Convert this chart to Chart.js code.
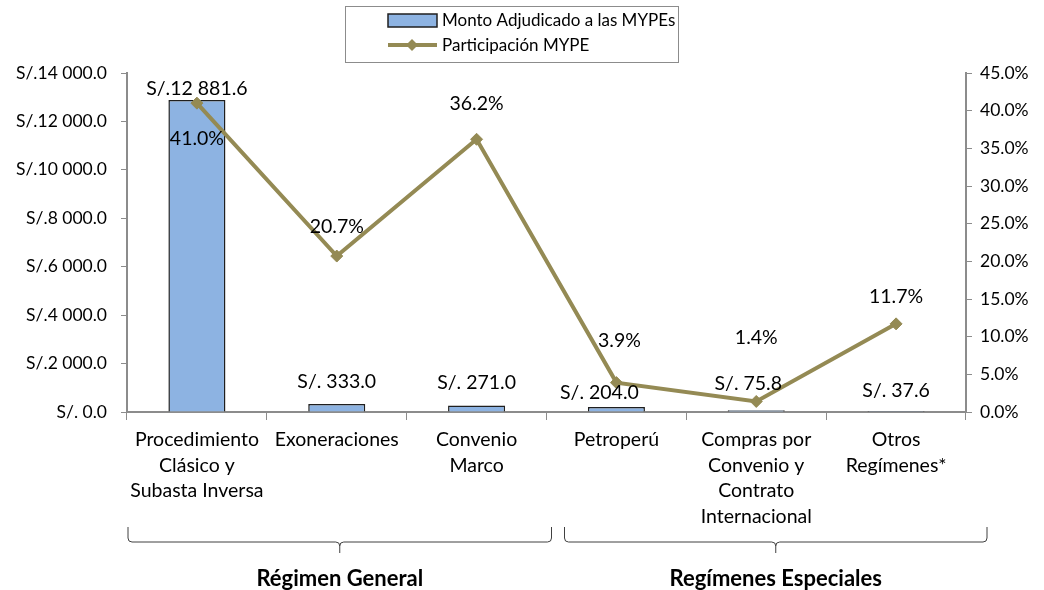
<!DOCTYPE html>
<html>
<head>
<meta charset="utf-8">
<script src="https://cdn.jsdelivr.net/npm/chart.js@4/dist/chart.umd.min.js"></script>
<style>
  html, body { margin: 0; padding: 0; background: #fff; }
  #wrap { width: 1044px; height: 590px; position: relative; }
</style>
</head>
<body>
<div id="wrap"><canvas id="c" width="1044" height="590"></canvas></div>
<script>
// ---- data ----
const categories = [
  ["Procedimiento", "Clásico y", "Subasta Inversa"],
  ["Exoneraciones"],
  ["Convenio", "Marco"],
  ["Petroperú"],
  ["Compras por", "Convenio y", "Contrato", "Internacional"],
  ["Otros", "Regímenes*"]
];
const montoLabel = "Monto Adjudicado a las MYPEs";
const montos = [12881.6, 333.0, 271.0, 204.0, 75.8, 37.6];
const partLabel = "Participación MYPE";
const participacion = [41.0, 20.7, 36.2, 3.9, 1.4, 11.7];
const groupNames = ["Régimen General", "Regímenes Especiales"];
const groupFirst = [0, 3];
const groupLast = [2, 5];
const leftTickMax = 14000, leftTickStep = 2000;
const rightTickMax = 45, rightTickStep = 5;

// ---- style ----
const FONT = "Lato, 'Open Sans', sans-serif";
const BAR_FILL = "#8DB3E2";
const BAR_EDGE = "#1F1F1F";
const LINE_COL = "#948A54";
const AXIS_COL = "#8C8C8C";
const TICK_SIZE = 17.5, LABEL_SIZE = 19.5, CAT_SIZE = 19.5, LEGEND_SIZE = 17, GROUP_SIZE = 22;
// label offsets (pixels) for Excel-like label placement
const barLabelDY = [-11, -22, -23, -14, -26, -20];
const barLabelDX = [0, 0, 0, -17, -8, 0];
const ptLabelDY = [36, -29, -36, -42, -64, -27];
const ptLabelDX = [0, 0, 0, 3, 0, 0];
const bracketPadL = [1, 18];
const bracketPadR = [5, 21];

function fmtSoles(v) {
  const s = Math.abs(v).toFixed(1);
  let [ip, dp] = s.split(".");
  if (ip.length > 3) {
    ip = ip.replace(/\B(?=(\d{3})+(?!\d))/g, " ");
    return "S/." + ip + "." + dp;
  }
  return "S/. " + ip + "." + dp;
}
function fmtPct(v) { return v.toFixed(1) + "%"; }

const labelsPlugin = {
  id: "labelsPlugin",
  afterDatasetsDraw(chart) {
    const ctx = chart.ctx;
    ctx.save();
    ctx.font = LABEL_SIZE + "px " + FONT;
    ctx.fillStyle = "#000";
    ctx.textAlign = "center";
    ctx.textBaseline = "middle";
    const barMeta = chart.getDatasetMeta(1);
    barMeta.data.forEach((el, i) => {
      ctx.fillText(fmtSoles(montos[i]), el.x + barLabelDX[i], el.y + barLabelDY[i]);
    });
    const lineMeta = chart.getDatasetMeta(0);
    lineMeta.data.forEach((el, i) => {
      ctx.fillText(fmtPct(participacion[i]), el.x + ptLabelDX[i], el.y + ptLabelDY[i]);
    });
    ctx.restore();
  }
};

const extrasPlugin = {
  id: "extrasPlugin",
  afterDraw(chart) {
    const ctx = chart.ctx;
    const xs = chart.scales.x;
    ctx.save();
    // brackets and group labels
    const half = (xs.getPixelForValue(1) - xs.getPixelForValue(0)) / 2;
    const yTop = 527, yLine = 542, yNub = 553, r = 4;
    for (let g = 0; g < groupNames.length; g++) {
      const x1 = xs.getPixelForValue(groupFirst[g]) - half + bracketPadL[g];
      const x2 = xs.getPixelForValue(groupLast[g]) + half + bracketPadR[g];
      const xc = (x1 + x2) / 2;
      ctx.strokeStyle = "#404040";
      ctx.lineWidth = 1;
      ctx.beginPath();
      ctx.moveTo(x1, yTop);
      ctx.lineTo(x1, yLine - r);
      ctx.quadraticCurveTo(x1, yLine, x1 + r, yLine);
      ctx.lineTo(xc - r, yLine);
      ctx.quadraticCurveTo(xc, yLine, xc, yLine + r);
      ctx.lineTo(xc, yNub);
      ctx.moveTo(xc, yLine + r);
      ctx.quadraticCurveTo(xc, yLine, xc + r, yLine);
      ctx.lineTo(x2 - r, yLine);
      ctx.quadraticCurveTo(x2, yLine, x2, yLine - r);
      ctx.lineTo(x2, yTop);
      ctx.stroke();
      ctx.fillStyle = "#000";
      ctx.font = "bold " + GROUP_SIZE + "px " + FONT;
      ctx.textAlign = "center";
      ctx.textBaseline = "middle";
      ctx.fillText(groupNames[g], xc, 579);
    }
    // legend
    const lx = 345, ly = 6, lw = 333, lh = 56;
    ctx.strokeStyle = "#8C8C8C";
    ctx.lineWidth = 1;
    ctx.strokeRect(lx + 0.5, ly + 0.5, lw, lh);
    // row 1
    ctx.fillStyle = BAR_FILL;
    ctx.fillRect(388, 14, 49, 13);
    ctx.strokeStyle = BAR_EDGE;
    ctx.lineWidth = 1.5;
    ctx.strokeRect(388, 14, 49, 13);
    ctx.fillStyle = "#000";
    ctx.font = LEGEND_SIZE + "px " + FONT;
    ctx.textAlign = "left";
    ctx.textBaseline = "middle";
    ctx.fillText(chart.data.datasets[1].label, 442, 21);
    // row 2
    ctx.strokeStyle = LINE_COL;
    ctx.lineWidth = 4;
    ctx.beginPath();
    ctx.moveTo(388, 45);
    ctx.lineTo(437, 45);
    ctx.stroke();
    ctx.fillStyle = LINE_COL;
    ctx.beginPath();
    ctx.moveTo(412, 39); ctx.lineTo(418, 45); ctx.lineTo(412, 51); ctx.lineTo(406, 45);
    ctx.closePath();
    ctx.fill();
    ctx.fillStyle = "#000";
    ctx.fillText(chart.data.datasets[0].label, 442, 46);
    ctx.restore();
  }
};

new Chart(document.getElementById("c"), {
  data: {
    labels: categories,
    datasets: [
      {
        type: "line",
        label: partLabel,
        data: participacion,
        yAxisID: "y1",
        borderColor: LINE_COL,
        backgroundColor: LINE_COL,
        borderWidth: 4,
        pointStyle: "rectRot",
        pointRadius: 6,
        pointBackgroundColor: LINE_COL,
        pointBorderColor: LINE_COL,
        pointBorderWidth: 1,
        tension: 0,
        order: 0
      },
      {
        type: "bar",
        label: montoLabel,
        data: montos,
        yAxisID: "y",
        backgroundColor: BAR_FILL,
        borderColor: BAR_EDGE,
        borderWidth: 1.5,
        categoryPercentage: 1,
        barPercentage: 0.408,
        order: 1
      }
    ]
  },
  options: {
    responsive: false,
    animation: false,
    layout: { padding: { top: 73, left: 0, right: 0, bottom: 0 } },
    plugins: { legend: { display: false }, tooltip: { enabled: false } },
    scales: {
      x: {
        offset: true,
        grid: { display: true, offset: true, drawOnChartArea: false, drawTicks: true, tickLength: 8, color: AXIS_COL },
        border: { display: true, color: AXIS_COL, width: 2 },
        ticks: { color: "#000", font: { family: FONT, size: CAT_SIZE, lineHeight: 1.31 }, padding: 7, maxRotation: 0, autoSkip: false },
        afterFit(s) { s.height = 178; }
      },
      y: {
        position: "left",
        min: 0, max: leftTickMax,
        grid: { display: true, drawOnChartArea: false, drawTicks: true, tickLength: 6, color: AXIS_COL },
        border: { display: true, color: AXIS_COL, width: 2 },
        ticks: { stepSize: leftTickStep, color: "#000", font: { family: FONT, size: TICK_SIZE }, padding: 14, callback: v => fmtSoles(v) },
        afterFit(s) { s.width = 127; }
      },
      y1: {
        position: "right",
        min: 0, max: rightTickMax,
        grid: { display: true, drawOnChartArea: false, drawTicks: true, tickLength: 6, color: AXIS_COL },
        border: { display: true, color: AXIS_COL, width: 2 },
        ticks: { stepSize: rightTickStep, color: "#000", font: { family: FONT, size: TICK_SIZE }, padding: 8, callback: v => v.toFixed(1) + "%" },
        afterFit(s) { s.width = 78; }
      }
    }
  },
  plugins: [labelsPlugin, extrasPlugin]
});
</script>
</body>
</html>
